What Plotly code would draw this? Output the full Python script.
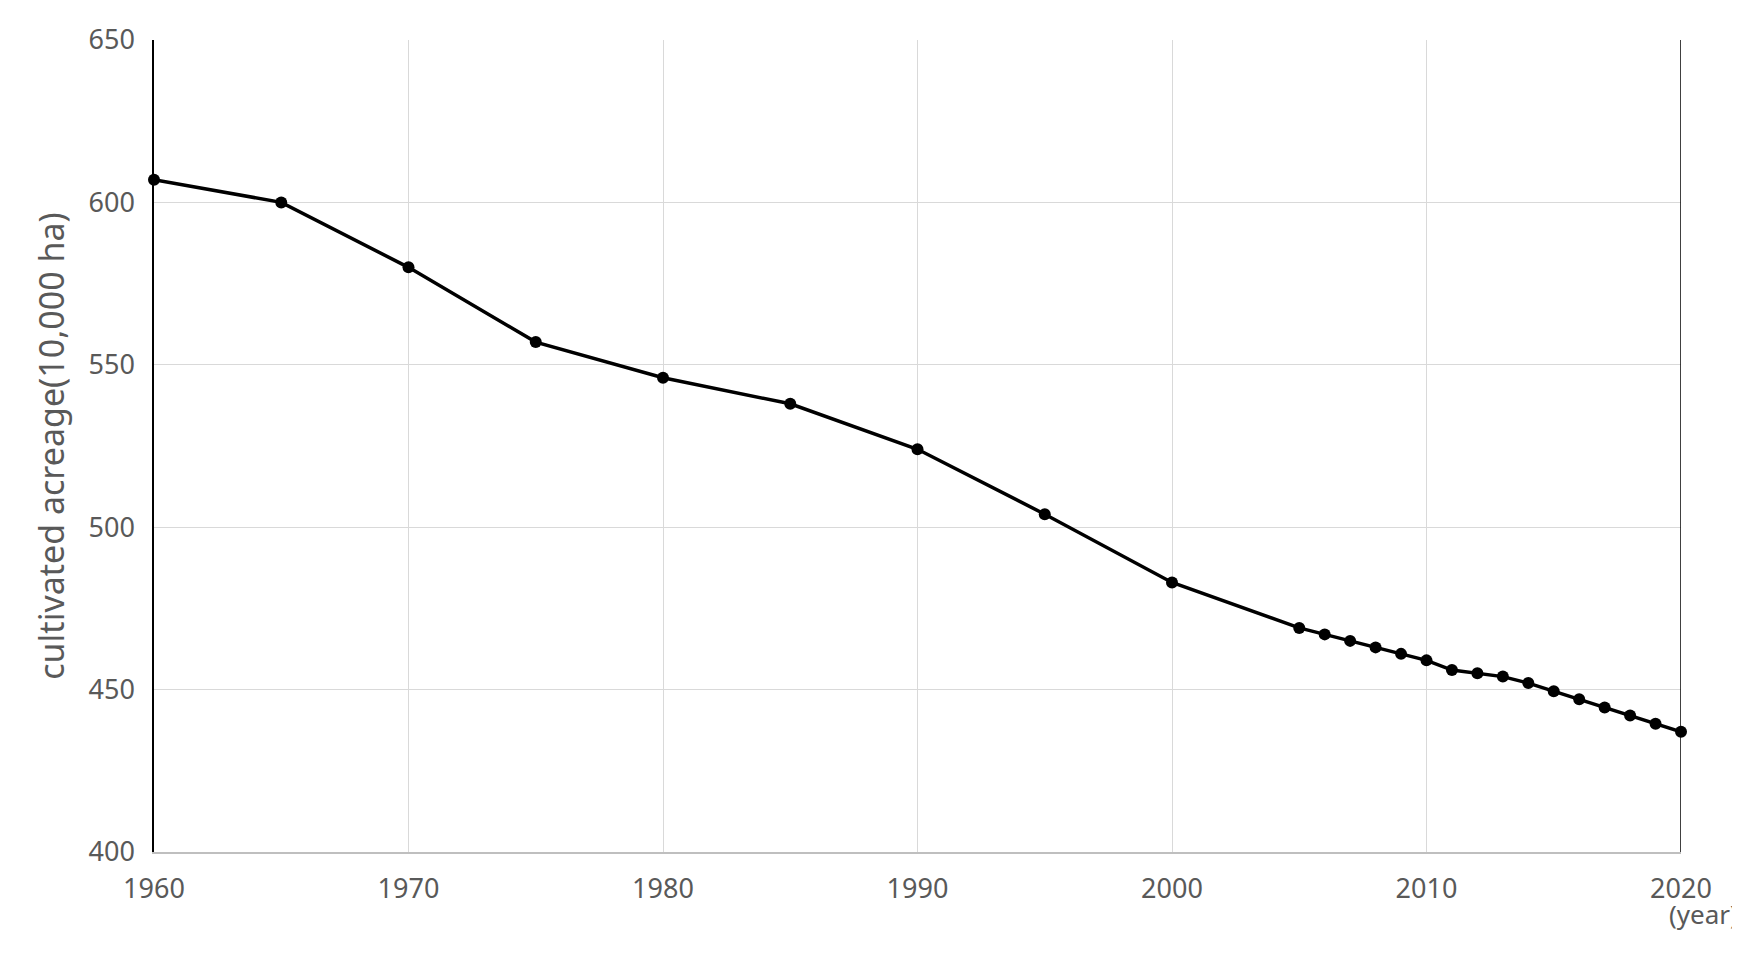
import plotly.graph_objects as go

years = [1960, 1965, 1970, 1975, 1980, 1985, 1990, 1995, 2000,
         2005, 2006, 2007, 2008, 2009, 2010, 2011, 2012, 2013,
         2014, 2015, 2016, 2017, 2018, 2019, 2020]
acreage = [607, 600, 580, 557, 546, 538, 524, 504, 483,
           469, 467, 465, 463, 461, 459, 456, 455, 454,
           452, 449.5, 447, 444.5, 442, 439.5, 437]

x_ticks = [1960, 1970, 1980, 1990, 2000, 2010, 2020]
y_ticks = [400, 450, 500, 550, 600, 650]

fig = go.Figure()
fig.add_trace(go.Scatter(
    x=years, y=acreage, mode='lines+markers',
    line=dict(color='black', width=3.5),
    marker=dict(color='black', size=12),
    cliponaxis=False, showlegend=False
))

# right-hand vertical line at 2020
fig.add_vline(x=2020, line_color='black', line_width=1.5)

fig.add_annotation(x=2020, y=0, xref='x', yref='paper', yshift=-82, xshift=22,
                   text='(year)', showarrow=False,
                   font=dict(size=26, color='#595959'))

fig.update_layout(
    width=1740, height=971,
    margin=dict(l=146, r=67, t=28, b=127),
    plot_bgcolor='white', paper_bgcolor='white',
    font=dict(family='Noto Sans, Open Sans, sans-serif', color='#595959', size=27),
    xaxis=dict(range=[1960, 2020], tickvals=x_ticks, showgrid=True,
               gridcolor='#d9d9d9', gridwidth=1, zeroline=False,
               showline=True, linecolor='#bfbfbf', linewidth=1.5,
               ticks='', ticklabelstandoff=12),
    yaxis=dict(range=[400, 650], tickvals=y_ticks, showgrid=True,
               gridcolor='#d9d9d9', gridwidth=1, zeroline=False,
               showline=True, linecolor='black', linewidth=1.5,
               ticks='', ticklabelstandoff=12,
               title=dict(text='cultivated acreage(10,000 ha)',
                          font=dict(size=34, color='#595959'), standoff=14)),
)

fig.write_html("out.html")
